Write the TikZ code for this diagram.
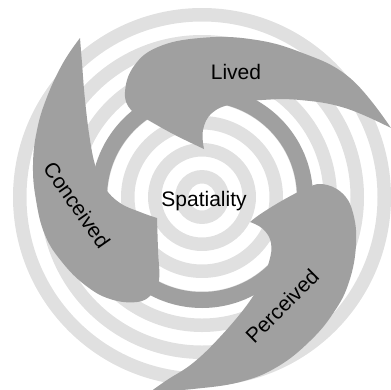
\documentclass[tikz,border=0pt]{standalone}
\usepackage{fontspec}
\setmainfont{Liberation Sans}
\usepackage{tikz}
\usetikzlibrary{positioning}

\begin{document}
\begin{tikzpicture}[x=1pt,y=-1pt,font=\fontsize{21}{25}\selectfont,
    blade/.style={fill=cD,draw=none},
    ringband/.style={fill=cL,even odd rule}]
      \definecolor{cL}{RGB}{224,224,224}
      \definecolor{cD}{RGB}{160,160,160}
      \clip (0,0) rectangle (391,389);
      \coordinate (c) at (202,197);
      % light rings
      \foreach \k in {1,3,...,13}
        \fill[ringband] (c) circle[radius={\k*13.5pt}] circle[radius={(\k+1)*13.5pt}];
      \fill[blade,even odd rule] (c) circle[radius=95pt] circle[radius=111pt];
      % Lived
      \fill[blade] plot[smooth,tension=0.7] coordinates {(391,128) (350,78) (300,52) (250,39) (200,38) (158,47) (134,66) (125,92) (131,110) (148,120) (175,135) (204,149)}
        -- plot[smooth,tension=0.7] coordinates {(204,149) (203,130) (212,113) (232,104) (262,100) (300,100) (345,108) (391,128)} -- cycle;
      % Conceived
      \fill[blade] plot[smooth,tension=0.7] coordinates {(80,38) (63,63) (47,97) (37,130) (33,165) (36,200) (45,235) (62,262) (85,285) (110,299) (137,302) (152,294) (159,280) (158,250) (157,218)}
        -- plot[smooth,tension=0.7] coordinates {(157,218) (140,212) (120,203) (105,188) (96,168) (90,140) (85,100) (82,63) (80,38)} -- cycle;
      % Perceived
      \fill[blade] plot[smooth,tension=0.7] coordinates {(250,222) (262,213) (285,199) (305,189) (322,184) (342,193) (353,213) (356,245) (349,282) (334,312) (310,341) (277,367) (240,382) (193,389) (150,392)}
        -- plot[smooth,tension=0.7] coordinates {(150,392) (167,380) (193,363) (220,337) (247,305) (260,283) (269,262) (271,243) (263,229) (250,222)} -- cycle;
      \node (spat) at (204,201) {Spatiality};
      \node (lived) at (236,72) {Lived};
      \node[rotate=-55] (conc) at (77,205) {Conceived};
      \node[rotate=45] (perc) at (282,306) {Perceived};
\end{tikzpicture}
\end{document}
